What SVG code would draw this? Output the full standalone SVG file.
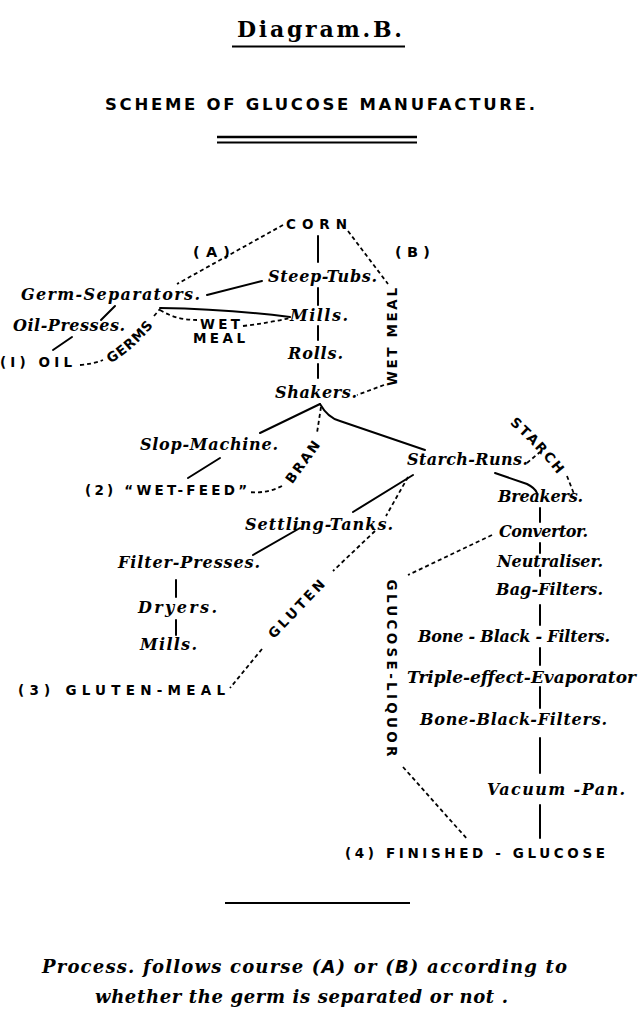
<svg xmlns="http://www.w3.org/2000/svg" width="638" height="1024" viewBox="0 0 638 1024">
<style>
.bg{fill:#fff}
.it{font-family:"DejaVu Serif","Liberation Serif",serif;font-style:italic;font-weight:bold;font-size:16px;fill:#000}
.cap{font-family:"DejaVu Sans","Liberation Sans",sans-serif;font-weight:bold;font-size:13.5px;fill:#000}
.ttl{font-family:"DejaVu Serif","Liberation Serif",serif;font-weight:bold;font-size:22px;fill:#000}
.sub{font-family:"DejaVu Sans","Liberation Sans",sans-serif;font-weight:bold;font-size:16.5px;fill:#000}
.note{font-family:"DejaVu Serif","Liberation Serif",serif;font-style:italic;font-weight:bold;font-size:18px;fill:#000}
.ab{font-family:"DejaVu Sans","Liberation Sans",sans-serif;font-style:italic;font-weight:bold}
.ln{stroke:#000;stroke-width:2;fill:none;stroke-linecap:round}
.dl{stroke:#000;stroke-width:1.8;fill:none;stroke-dasharray:4 3}
.rule{stroke:#000;stroke-width:1.8}
</style>
<defs>
<path id="pGerms" d="M105,366 Q131,354 158,320"/>
<path id="pBran" d="M286,493 L328,435"/>
<path id="pGluten" d="M262,652 L340,570"/>
<path id="pStarch" d="M500,416 Q535,443 566,486"/>
</defs>
<rect class="bg" x="0" y="0" width="638" height="1024"/>

<g id="title">
<text class="ttl" x="237" y="37" textLength="165" lengthAdjust="spacing">Diagram.B.</text>
<line class="rule" x1="232" y1="46.5" x2="405" y2="46.5"/>
<text class="sub" x="105" y="110" textLength="430" lengthAdjust="spacing">SCHEME OF GLUCOSE MANUFACTURE.</text>
<line class="rule" x1="217" y1="137" x2="417" y2="137" style="stroke-width:2.4"/>
<line class="rule" x1="217" y1="142.5" x2="417" y2="142.5"/>
</g>

<g id="connectors">
<path class="ln" d="M318,236 V262"/>
<path class="ln" d="M262,281 L207,295"/>
<path class="ln" d="M318,288 V305"/>
<path class="ln" d="M160,308 Q228,309 290,317"/>
<path class="ln" d="M318,326 V340"/>
<path class="ln" d="M318,364 V378"/>
<path class="ln" d="M115,306 L101,320"/>
<path class="ln" d="M72,337 L53,350"/>
<path class="ln" d="M320,404 L260,433"/>
<path class="ln" d="M320,404 Q328,418 340,421 L425,450"/>
<path class="ln" d="M220,458 L188,478"/>
<path class="ln" d="M413,475 L353,512"/>
<path class="ln" d="M300,528 L253,555"/>
<path class="ln" d="M176,580 V597"/>
<path class="ln" d="M176,620 V635"/>
<path class="ln" d="M495,473 L527,484 Q535,488 537,493"/>
<path class="ln" d="M540,508 V522"/>
<path class="ln" d="M540,543 V553"/>
<path class="ln" d="M540,570 V576"/>
<path class="ln" d="M540,605 V625"/>
<path class="ln" d="M540,648 V665"/>
<path class="ln" d="M540,687 V708"/>
<path class="ln" d="M540,738 V773"/>
<path class="ln" d="M540,805 V838"/>
<path class="dl" d="M283,225 L177,284"/>
<path class="dl" d="M348,231 L388,284"/>
<path class="dl" d="M384,385 L357,395"/>
<path class="dl" d="M160,310 Q176,320 197,320"/>
<path class="dl" d="M243,326 Q268,323 290,318"/>
<path class="dl" d="M80,365 Q93,364 103,360"/>
<path class="dl" d="M154,316 L160,309"/>
<path class="dl" d="M321,407 L317,433"/>
<path class="dl" d="M282,486 Q266,494 248,492"/>
<path class="dl" d="M527,463 L540,452"/>
<path class="dl" d="M567,476 L574,494"/>
<path class="dl" d="M408,477 L386,516"/>
<path class="dl" d="M375,531 L333,571"/>
<path class="dl" d="M262,649 L230,688"/>
<path class="dl" d="M492,535 L408,575"/>
<path class="dl" d="M403,767 L468,840"/>
</g>

<g id="corn"><text class="cap" x="286" y="229" textLength="61" lengthAdjust="spacing">CORN</text></g>
<g id="label-a"><text class="cap" style="font-size:14.5px" x="193" y="257" textLength="37" lengthAdjust="spacing">(A)</text></g>
<g id="label-b"><text class="cap" style="font-size:14.5px" x="395" y="257" textLength="35" lengthAdjust="spacing">(B)</text></g>
<g id="steep-tubs"><text class="it" x="268" y="282" textLength="109" lengthAdjust="spacing">Steep-Tubs.</text></g>
<g id="germ-separators"><text class="it" x="21" y="300" textLength="179" lengthAdjust="spacing">Germ-Separators.</text></g>
<g id="oil-presses"><text class="it" x="13" y="331" textLength="112" lengthAdjust="spacing">Oil-Presses.</text></g>
<g id="oil"><text class="cap" x="0" y="367" textLength="72" lengthAdjust="spacing">(I) OIL</text></g>
<g id="germs-label"><text class="cap"><textPath href="#pGerms" startOffset="50%" text-anchor="middle" letter-spacing="1">GERMS</textPath></text></g>
<g id="mills-1"><text class="it" x="290" y="321" textLength="58" lengthAdjust="spacing">Mills.</text></g>
<g id="wet-meal-1">
<text class="cap" x="200" y="329" textLength="40" lengthAdjust="spacing">WET</text>
<text class="cap" x="193" y="343" textLength="52" lengthAdjust="spacing">MEAL</text>
</g>
<g id="rolls"><text class="it" x="288" y="359" textLength="55" lengthAdjust="spacing">Rolls.</text></g>
<g id="shakers"><text class="it" x="275" y="398" textLength="82" lengthAdjust="spacing">Shakers.</text></g>
<g id="wet-meal-2"><text class="cap" transform="translate(397,337) rotate(-90)" x="0" y="0" text-anchor="middle" textLength="98" lengthAdjust="spacing">WET MEAL</text></g>
<g id="slop-machine"><text class="it" x="140" y="450" textLength="138" lengthAdjust="spacing">Slop-Machine.</text></g>
<g id="wet-feed"><text class="cap" x="85" y="495" textLength="162" lengthAdjust="spacing">(2) “WET-FEED”</text></g>
<g id="bran-label"><text class="cap"><textPath href="#pBran" startOffset="50%" text-anchor="middle" letter-spacing="2">BRAN</textPath></text></g>
<g id="starch-runs"><text class="it" x="407" y="465" textLength="121" lengthAdjust="spacing">Starch-Runs.</text></g>
<g id="starch-label"><text class="cap"><textPath href="#pStarch" startOffset="50%" text-anchor="middle" letter-spacing="2">STARCH</textPath></text></g>
<g id="settling-tanks"><text class="it" x="245" y="530" textLength="148" lengthAdjust="spacing">Settling-Tanks.</text></g>
<g id="filter-presses"><text class="it" x="118" y="568" textLength="142" lengthAdjust="spacing">Filter-Presses.</text></g>
<g id="dryers"><text class="it" x="138" y="613" textLength="79" lengthAdjust="spacing">Dryers.</text></g>
<g id="mills-2"><text class="it" x="140" y="650" textLength="57" lengthAdjust="spacing">Mills.</text></g>
<g id="gluten-label"><text class="cap"><textPath href="#pGluten" startOffset="50%" text-anchor="middle" letter-spacing="3">GLUTEN</textPath></text></g>
<g id="gluten-meal"><text class="cap" x="18" y="695" textLength="207" lengthAdjust="spacing">(3) GLUTEN-MEAL</text></g>
<g id="breakers"><text class="it" x="498" y="502" textLength="85" lengthAdjust="spacing">Breakers.</text></g>
<g id="convertor"><text class="it" x="499" y="537" textLength="89" lengthAdjust="spacing">Convertor.</text></g>
<g id="neutraliser"><text class="it" x="497" y="567" textLength="106" lengthAdjust="spacing">Neutraliser.</text></g>
<g id="bag-filters"><text class="it" x="496" y="595" textLength="107" lengthAdjust="spacing">Bag-Filters.</text></g>
<g id="bone-black-1"><text class="it" x="418" y="642" textLength="192" lengthAdjust="spacing">Bone - Black - Filters.</text></g>
<g id="evaporator"><text class="it" x="407" y="683" textLength="229" lengthAdjust="spacingAndGlyphs">Triple-effect-Evaporator</text></g>
<g id="bone-black-2"><text class="it" x="420" y="725" textLength="187" lengthAdjust="spacing">Bone-Black-Filters.</text></g>
<g id="vacuum-pan"><text class="it" x="487" y="795" textLength="138" lengthAdjust="spacing">Vacuum -Pan.</text></g>
<g id="glucose-liquor"><text class="cap" transform="translate(387,668) rotate(90)" x="0" y="0" text-anchor="middle" textLength="177" lengthAdjust="spacing">GLUCOSE-LIQUOR</text></g>
<g id="finished-glucose"><text class="cap" x="345" y="858" textLength="260" lengthAdjust="spacing">(4) FINISHED - GLUCOSE</text></g>

<g id="footer">
<line class="rule" x1="225" y1="903" x2="410" y2="903"/>
<text class="note" x="42" y="973" textLength="525" lengthAdjust="spacing">Process. follows course (<tspan class="ab">A</tspan>) or (<tspan class="ab">B</tspan>) according to</text>
<text class="note" x="95" y="1003" textLength="413" lengthAdjust="spacing">whether the germ is separated or not .</text>
</g>
</svg>
